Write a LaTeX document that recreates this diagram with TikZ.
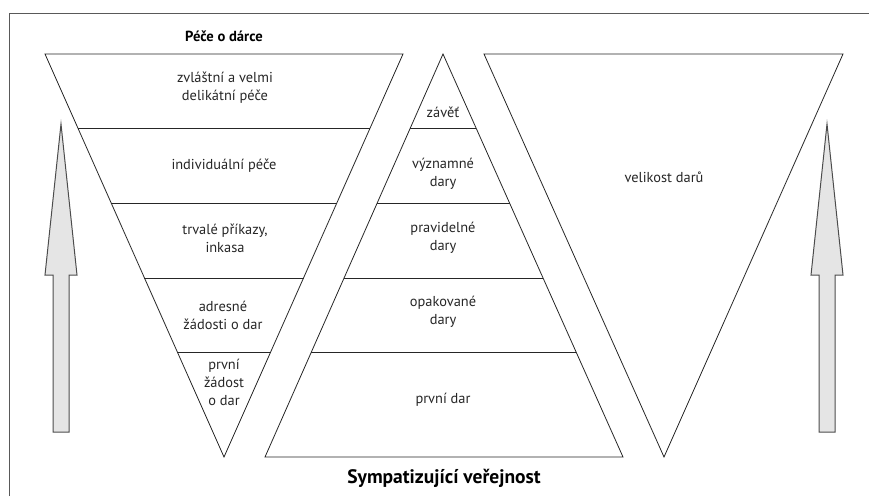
\documentclass[tikz,border=0pt]{standalone}
\usepackage{fontspec}
\setmainfont{PT Sans}
\usetikzlibrary{calc}

\begin{document}
\begin{tikzpicture}[x=1pt, y=-1pt,
	line width=0.8pt,
	outline/.style={draw=black!85, line join=miter},
	border/.style={draw=black!65, line width=1pt},
	txt/.style={align=center, text=black!85, inner sep=0pt, font=\fontsize{14.4}{18}\selectfont},
	heading/.style={inner sep=0pt, font=\bfseries\fontsize{14.6}{18}\selectfont},
	blockarrow/.style={draw=black!70, fill=black!10, line width=1pt, line join=miter}]

	\useasboundingbox (0,0) rectangle (869,496);
	\draw[border] (9,496) -- (9,13) -- (869,13);

	% corners of the three triangles
	\coordinate (ltl) at (45,54);
	\coordinate (ltr) at (403,54);
	\coordinate (lap) at (224,457);
	\coordinate (map) at (443,54);
	\coordinate (mbl) at (265,457);
	\coordinate (mbr) at (623,457);
	\coordinate (rtl) at (484,54);
	\coordinate (rtr) at (843,54);
	\coordinate (rap) at (664,457);

	\draw[outline] (ltl) -- (ltr) -- (lap) -- cycle;
	\draw[outline] (map) -- (mbr) -- (mbl) -- cycle;
	\draw[outline] (rtl) -- (rtr) -- (rap) -- cycle;

	% levels
	\foreach \yy in {128,203,278,352} {
		\draw[outline] ($(ltl)!{(\yy-54)/403}!(lap)$) -- ($(ltr)!{(\yy-54)/403}!(lap)$);
		\draw[outline] ($(map)!{(\yy-54)/403}!(mbl)$) -- ($(map)!{(\yy-54)/403}!(mbr)$);
	}

	% left funnel
	\node[heading] (care) at (224,36) {Péče o dárce};
	\node[txt] (special) at (225,88) {zvláštní a velmi\\delikátní péče};
	\node[txt] (indiv) at (224,166) {individuální péče};
	\node[txt] (orders) at (225,238) {trvalé příkazy,\\inkasa};
	\node[txt] (address) at (223,315) {adresné\\žádosti o dar};
	\node[txt] (firstask) at (224,382) {první\\žádost\\o dar};

	% middle pyramid
	\node[txt] (will) at (443,112) {závěť};
	\node[txt] (major) at (443,174) {významné\\dary};
	\node[txt] (regular) at (443,238) {pravidelné\\dary};
	\node[txt] (repeat) at (443,312) {opakované\\dary};
	\node[txt] (firstgift) at (443,400) {první dar};
	\node[heading, font=\bfseries\fontsize{19.5}{22}\selectfont] (public) at (444,478) {Sympatizující veřejnost};

	% right funnel
	\node[txt] (size) at (664,177) {velikost darů};

	% arrows
	\foreach \ax in {61,827}
		\draw[blockarrow] (\ax,124) -- (\ax+16,275) -- (\ax+8,275) -- (\ax+8,432)
			-- (\ax-8,432) -- (\ax-8,275) -- (\ax-16,275) -- cycle;

\end{tikzpicture}
\end{document}
